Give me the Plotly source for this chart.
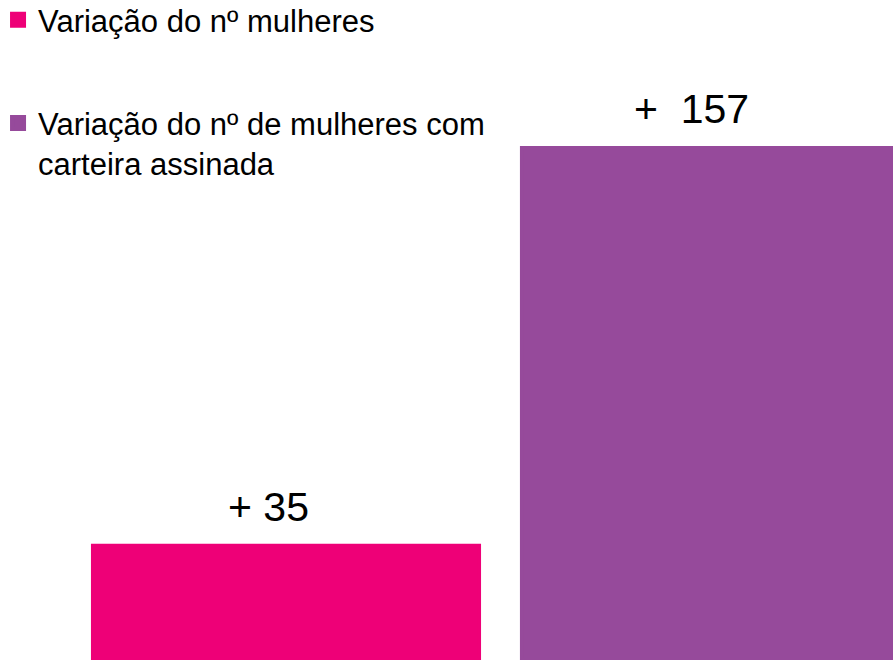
import plotly.graph_objects as go

# Data
positions = [0, 1]
values = [35, 157]
value_labels = ["+ 35", "+\u00a0\u00a0157"]
series_names = [
    "Variação do nº mulheres",
    "Variação do nº de mulheres com<br>carteira assinada",
]
colors = ["#EE0077", "#964A9B"]

FONT = "Liberation Sans, Arial, sans-serif"
label_xshift = [-18, -23]

fig = go.Figure()
for i in range(len(values)):
    fig.add_trace(go.Bar(
        x=[positions[i]],
        y=[values[i]],
        name=series_names[i],
        legendgroup=f"g{i}",
        marker=dict(color=colors[i], line=dict(width=4, color=colors[i])),
        width=0.9,
        hoverinfo="skip",
    ))
    fig.add_annotation(
        x=positions[i], y=values[i], text=value_labels[i],
        showarrow=False, xanchor="center", yanchor="bottom",
        xshift=label_xshift[i], yshift=14,
        font=dict(family=FONT, size=41, color="#000000"),
    )

fig.update_layout(
    width=893, height=660,
    margin=dict(l=0, r=0, t=0, b=0, autoexpand=False),
    paper_bgcolor="white", plot_bgcolor="white",
    barmode="overlay",
    showlegend=True,
    legend=dict(
        x=-0.0022, y=1 + 7 / 660, xanchor="left", yanchor="top",
        font=dict(family=FONT, size=31, color="#000000"),
        bgcolor="rgba(0,0,0,0)",
        traceorder="grouped",
        tracegroupgap=60,
        valign="top",
    ),
    xaxis=dict(visible=False, range=[-0.6667, 1.415]),
    yaxis=dict(visible=False, range=[0, 202.4]),
)

fig.write_html(
    "out.html",
    config={"displayModeBar": False},
    post_script="document.body.style.margin='0';document.body.style.overflow='hidden';",
)
